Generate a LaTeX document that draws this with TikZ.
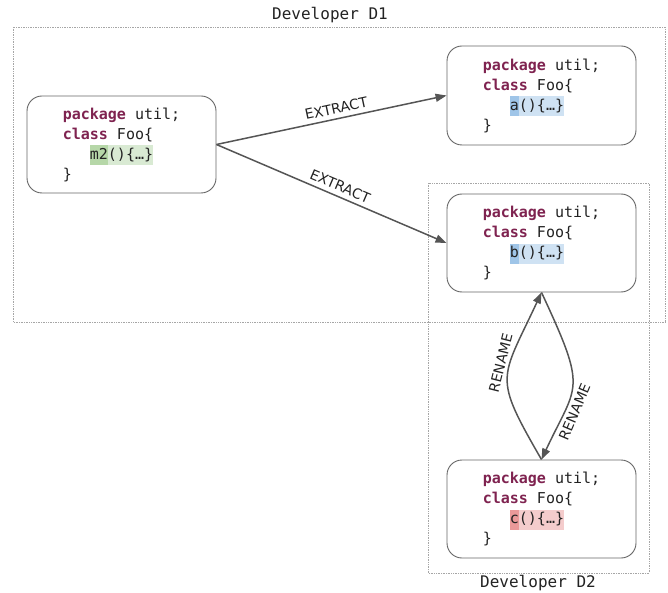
\documentclass[tikz,border=0pt]{standalone}
\usepackage{fontspec}
\setmonofont{DejaVu Sans Mono}
\setsansfont{DejaVu Sans}
\usetikzlibrary{arrows.meta}
\definecolor{kwc}{HTML}{7F2350}
\definecolor{txt}{HTML}{222222}
\definecolor{edge}{HTML}{555555}
\definecolor{boxc}{HTML}{666666}
\definecolor{grnD}{HTML}{B6D7A8}
\definecolor{grnL}{HTML}{D9EAD3}
\definecolor{bluD}{HTML}{9FC5E8}
\definecolor{bluL}{HTML}{CFE2F3}
\definecolor{redD}{HTML}{EA9999}
\definecolor{redL}{HTML}{F4CCCC}
\newcommand\kwd[1]{\textcolor{kwc}{\bfseries #1}}
\newcommand\meth[3]{{\setlength{\fboxsep}{0pt}\colorbox{#1}{\strut #3}\colorbox{#2}{\strut ()\{…\}}}}
\newcommand\codebody[3]{\kwd{package} util;\\\kwd{class} Foo\{\\\phantom{xxx}\meth{#1}{#2}{#3}\\\}}
\begin{document}
\begin{tikzpicture}[x=1pt,y=1pt,
  codebox/.style={draw=boxc, line width=0.9pt, rounded corners=15pt, fill=white,
    minimum width=189pt, align=left, text=txt,
    font=\ttfamily\fontsize{15}{20}\selectfont},
  devbox/.style={draw=gray!70, densely dotted, line width=0.7pt},
  devlabel/.style={font=\ttfamily\fontsize{16}{18}\selectfont, text=txt},
  conn/.style={draw=edge, line width=1.5pt},
  lbl/.style={font=\sffamily\fontsize{14}{14}\selectfont, text=txt}]
\path[use as bounding box] (0,0) rectangle (668,-593);
% developer areas
\draw[devbox] (13,-27) rectangle (665,-322);
\draw[devbox] (428,-183) rectangle (649,-573);
\node[devlabel] (d1) at (330,-15) {Developer D1};
\node[devlabel] (d2) at (538,-583) {Developer D2};
% code boxes
\node[codebox, minimum height=97pt] (src) at (121.5,-144.5) {\codebody{grnD}{grnL}{m2}};
\node[codebox, minimum height=99pt] (a) at (541.5,-95.5) {\codebody{bluD}{bluL}{a}};
\node[codebox, minimum height=98pt] (b) at (541.5,-243) {\codebody{bluD}{bluL}{b}};
\node[codebox, minimum height=98pt] (c) at (541.5,-509) {\codebody{redD}{redL}{c}};
% connectors
\draw[conn, -{Triangle[length=11pt,width=8pt]}] (src.east) -- node[lbl, pos=0.53, above=1pt, sloped] {EXTRACT} (a.west);
\draw[conn, -{Triangle[length=11pt,width=8pt]}] (src.east) -- node[lbl, pos=0.52, above=1pt, sloped] {EXTRACT} (b.west);
\draw[conn, -{Triangle[length=11pt,width=8pt]}] (c.north) to[out=120, in=-115, looseness=1.5]
  node[lbl, pos=0.6, above, sloped] {RENAME} (b.south);
\draw[conn, {Triangle[length=11pt,width=8pt]}-] (c.north) to[out=65, in=-65, out looseness=1.3, in looseness=1.7]
  node[lbl, pos=0.3, below, sloped] {RENAME} (b.south);
\end{tikzpicture}
\end{document}
